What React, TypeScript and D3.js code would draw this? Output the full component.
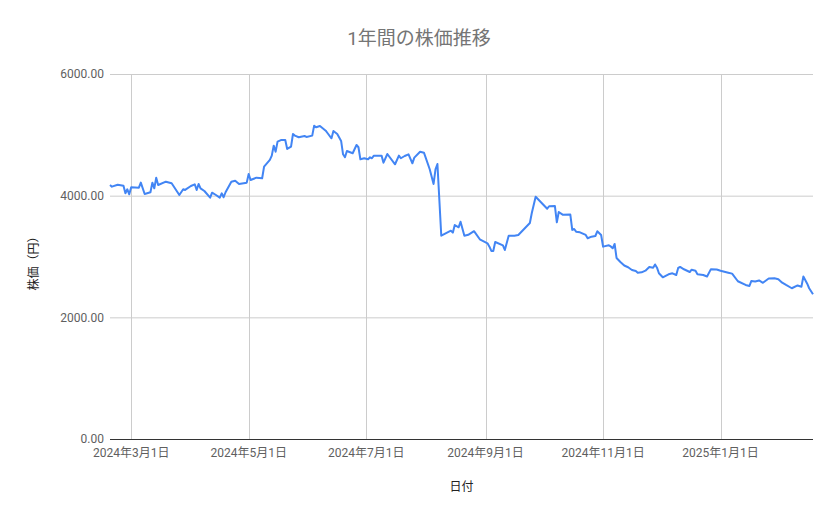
import { useEffect, useRef } from 'react'
import * as d3 from 'd3'

const DATES = [
  '2024-02-19', '2024-02-20', '2024-02-23', '2024-02-26', '2024-02-27', '2024-02-28', '2024-02-29',
  '2024-03-01', '2024-03-05', '2024-03-06', '2024-03-08', '2024-03-11', '2024-03-12', '2024-03-13',
  '2024-03-14', '2024-03-15', '2024-03-19', '2024-03-22', '2024-03-26', '2024-03-28', '2024-03-29',
  '2024-04-01', '2024-04-03', '2024-04-04', '2024-04-05', '2024-04-06', '2024-04-08', '2024-04-11',
  '2024-04-12', '2024-04-14', '2024-04-16', '2024-04-17', '2024-04-18', '2024-04-19', '2024-04-22',
  '2024-04-24', '2024-04-26', '2024-04-30', '2024-05-01', '2024-05-02', '2024-05-05', '2024-05-08',
  '2024-05-09', '2024-05-12', '2024-05-13', '2024-05-14', '2024-05-15', '2024-05-16', '2024-05-18',
  '2024-05-20', '2024-05-21', '2024-05-23', '2024-05-24', '2024-05-25', '2024-05-27', '2024-05-30',
  '2024-05-31', '2024-06-03', '2024-06-04', '2024-06-05', '2024-06-07', '2024-06-10', '2024-06-11',
  '2024-06-13', '2024-06-14', '2024-06-16', '2024-06-18', '2024-06-19', '2024-06-20', '2024-06-21',
  '2024-06-24', '2024-06-26', '2024-06-27', '2024-06-28', '2024-06-30', '2024-07-02', '2024-07-03',
  '2024-07-04', '2024-07-05', '2024-07-09', '2024-07-10', '2024-07-12', '2024-07-16', '2024-07-18',
  '2024-07-19', '2024-07-21', '2024-07-23', '2024-07-25', '2024-07-26', '2024-07-29', '2024-07-31',
  '2024-08-03', '2024-08-05', '2024-08-06', '2024-08-07', '2024-08-09', '2024-08-12', '2024-08-14',
  '2024-08-15', '2024-08-16', '2024-08-18', '2024-08-19', '2024-08-21', '2024-08-23', '2024-08-26',
  '2024-08-29', '2024-09-02', '2024-09-03', '2024-09-04', '2024-09-05', '2024-09-06', '2024-09-10',
  '2024-09-11', '2024-09-13', '2024-09-16', '2024-09-18', '2024-09-24', '2024-09-25', '2024-09-27',
  '2024-10-03', '2024-10-04', '2024-10-07', '2024-10-08', '2024-10-09', '2024-10-11', '2024-10-15',
  '2024-10-16', '2024-10-17', '2024-10-18', '2024-10-20', '2024-10-23', '2024-10-24', '2024-10-26',
  '2024-10-28', '2024-10-29', '2024-10-31', '2024-11-01', '2024-11-04', '2024-11-05', '2024-11-06',
  '2024-11-07', '2024-11-08', '2024-11-10', '2024-11-12', '2024-11-14', '2024-11-16', '2024-11-18',
  '2024-11-19', '2024-11-21', '2024-11-23', '2024-11-25', '2024-11-27', '2024-11-28', '2024-11-29',
  '2024-11-30', '2024-12-02', '2024-12-05', '2024-12-07', '2024-12-09', '2024-12-10', '2024-12-11',
  '2024-12-13', '2024-12-16', '2024-12-17', '2024-12-19', '2024-12-20', '2024-12-23', '2024-12-25',
  '2024-12-27', '2024-12-30', '2025-01-01', '2025-01-05', '2025-01-07', '2025-01-10', '2025-01-14',
  '2025-01-16', '2025-01-17', '2025-01-19', '2025-01-21', '2025-01-23', '2025-01-26', '2025-01-29',
  '2025-01-31', '2025-02-02', '2025-02-04', '2025-02-07', '2025-02-10', '2025-02-12', '2025-02-13',
  '2025-02-15', '2025-02-16', '2025-02-18',
]

const PRICES = [
  4175, 4148, 4180, 4164, 4039, 4105, 4023,
  4138, 4131, 4214, 4028, 4056, 4214, 4121,
  4296, 4176, 4230, 4204, 4011, 4105, 4094,
  4159, 4187, 4094, 4192, 4121, 4077, 3967,
  4049, 4011, 3967, 4039, 3974, 4056, 4230,
  4246, 4192, 4214, 4357, 4258, 4296, 4286,
  4477, 4587, 4658, 4822, 4723, 4888, 4916,
  4916, 4768, 4806, 5014, 4987, 4960, 4981,
  4965, 4987, 5151, 5124, 5146, 5068, 5026,
  4943, 5064, 5014, 4899, 4680, 4631, 4735,
  4697, 4833, 4796, 4598, 4615, 4598, 4631,
  4615, 4658, 4658, 4542, 4685, 4516, 4658,
  4615, 4652, 4680, 4532, 4625, 4723, 4707,
  4434, 4192, 4434, 4521, 3342, 3392, 3424,
  3392, 3518, 3480, 3572, 3342, 3357, 3416,
  3283, 3217, 3162, 3091, 3091, 3239, 3184,
  3107, 3341, 3342, 3354, 3551, 3715, 3983,
  3786, 3826, 3830, 3562, 3732, 3688, 3690,
  3436, 3452, 3408, 3398, 3354, 3300, 3326,
  3337, 3415, 3354, 3162, 3184, 3165, 3135,
  3206, 2976, 2910, 2852, 2823, 2778, 2762,
  2734, 2740, 2767, 2828, 2816, 2869, 2816,
  2724, 2658, 2708, 2724, 2696, 2811, 2828,
  2790, 2745, 2783, 2767, 2708, 2696, 2671,
  2792, 2787, 2767, 2734, 2718, 2593, 2532,
  2515, 2598, 2589, 2606, 2568, 2639, 2642,
  2627, 2570, 2532, 2478, 2524, 2504, 2671,
  2553, 2478, 2380,
]

const Y_TICKS = [0, 2000, 4000, 6000]
const TITLE = '1年間の株価推移'
const X_TITLE = '日付'
const Y_TITLE = '株価（円）'

const FONT = 'Roboto, "Noto Sans CJK JP", sans-serif'

export default function App() {
  const ref = useRef<SVGSVGElement>(null)

  useEffect(() => {
    const svg = d3.select(ref.current)
    svg.selectAll('*').remove()

    const width = 839
    const height = 519
    const margin = { top: 74, right: 26, bottom: 80, left: 110 }
    const innerW = width - margin.left - margin.right
    const innerH = height - margin.top - margin.bottom

    const parse = d3.timeParse('%Y-%m-%d')
    const data = DATES.map((d, i) => ({ date: parse(d)!, value: PRICES[i] }))

    const x = d3.scaleTime()
      .domain(d3.extent(data, d => d.date) as [Date, Date])
      .range([0, innerW])
    const y = d3.scaleLinear().domain([0, 6000]).range([innerH, 0])

    svg.attr('viewBox', `0 0 ${width} ${height}`)
    svg.append('rect').attr('width', width).attr('height', height).attr('fill', '#fff')

    const g = svg.append('g').attr('transform', `translate(${margin.left},${margin.top})`)

    const xTicks = x.ticks(d3.timeMonth.every(2)!)
    const fmt = (d: Date) => `${d.getFullYear()}年${d.getMonth() + 1}月${d.getDate()}日`

    // grid
    g.append('g')
      .selectAll('line')
      .data(Y_TICKS.filter(t => t > 0))
      .join('line')
      .attr('x1', 0)
      .attr('x2', innerW)
      .attr('y1', d => y(d) + 0.5)
      .attr('y2', d => y(d) + 0.5)
      .attr('stroke', '#cccccc')

    g.append('g')
      .selectAll('line')
      .data(xTicks)
      .join('line')
      .attr('x1', d => Math.round(x(d)) + 0.5)
      .attr('x2', d => Math.round(x(d)) + 0.5)
      .attr('y1', 0)
      .attr('y2', innerH)
      .attr('stroke', '#cccccc')

    // labels
    g.append('g')
      .selectAll('text')
      .data(Y_TICKS)
      .join('text')
      .attr('x', -6)
      .attr('y', d => y(d))
      .attr('dy', '0.35em')
      .attr('text-anchor', 'end')
      .attr('font-family', FONT)
      .attr('font-size', 12)
      .attr('fill', '#5f5f5f')
      .text(d => d3.format('.2f')(d))

    g.append('g')
      .selectAll('text')
      .data(xTicks)
      .join('text')
      .attr('x', d => x(d))
      .attr('y', innerH + 18)
      .attr('text-anchor', 'middle')
      .attr('font-family', FONT)
      .attr('font-size', 12)
      .attr('fill', '#5f5f5f')
      .text(fmt)

    // baseline
    g.append('line')
      .attr('x1', 0)
      .attr('x2', innerW)
      .attr('y1', y(0) + 0.5)
      .attr('y2', y(0) + 0.5)
      .attr('stroke', '#333333')

    const line = d3.line<{ date: Date; value: number }>()
      .x(d => x(d.date))
      .y(d => y(d.value))

    g.append('path')
      .datum(data)
      .attr('d', line)
      .attr('fill', 'none')
      .attr('stroke', '#4285f4')
      .attr('stroke-width', 2)
      .attr('stroke-linejoin', 'round')

    svg.append('text')
      .attr('x', 419)
      .attr('y', 45)
      .attr('text-anchor', 'middle')
      .attr('font-family', FONT)
      .attr('font-size', 19)
      .attr('fill', '#757575')
      .text(TITLE)

    svg.append('text')
      .attr('x', margin.left + innerW / 2)
      .attr('y', 491)
      .attr('text-anchor', 'middle')
      .attr('font-family', FONT)
      .attr('font-size', 12)
      .attr('fill', '#222222')
      .text(X_TITLE)

    svg.append('text')
      .attr('transform', `translate(38, ${margin.top + innerH / 2 + 4}) rotate(-90)`)
      .attr('text-anchor', 'middle')
      .attr('font-family', FONT)
      .attr('font-size', 12)
      .attr('fill', '#222222')
      .text(Y_TITLE)
  }, [])

  return (
    <div style={{ position: 'absolute', left: 0, top: 0 }}>
      <svg ref={ref} width={839} height={519} style={{ display: 'block' }} />
    </div>
  )
}
